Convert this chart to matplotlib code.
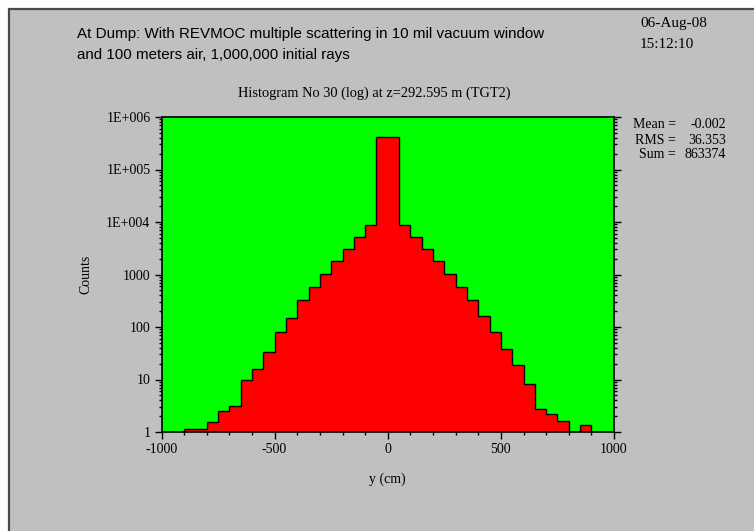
import numpy as np
import matplotlib.pyplot as plt
from matplotlib.patches import Rectangle
from matplotlib.ticker import FixedLocator, LogLocator, NullFormatter, MultipleLocator

# bin edges in cm, 50 cm wide
edges = np.arange(-1000, 1001, 50)
counts = [0, 0, 1.14, 1.14, 1.55, 2.5, 3.1, 9.6, 16, 34,
          80, 150, 320, 580, 1030, 1820, 3030, 5150, 8700, 410800,
          410800, 8600, 5150, 3030, 1820, 1030, 580, 323, 162, 80,
          38, 19, 8.2, 2.7, 2.25, 1.6, 1.02, 1.37, 0, 0]
ytick_vals = [1, 10, 100, 1000, 1e4, 1e5, 1e6]
ytick_labels = ['1', '10', '100', '1000', '1E+004', '1E+005', '1E+006']
xtick_vals = [-1000, -500, 0, 500, 1000]
xtick_labels = ['-1000', '-500', '0', '500', '1000']

serif = ['Liberation Serif', 'DejaVu Serif']
sans = ['Liberation Sans', 'DejaVu Sans']

fig = plt.figure(figsize=(7.54, 5.31), dpi=100, facecolor='white')
W, H = 754, 531

# grey panel with dark frame
fig.patches.append(Rectangle((9 / W, -0.01), 1, 1.01 - 9 / H, transform=fig.transFigure,
                             facecolor='#c0c0c0', edgecolor='#4a4a4a', lw=1.6, zorder=-10))

ax = fig.add_axes([161.5 / W, 1 - 432 / H, 452.5 / W, 315 / H])
ax.set_facecolor('#00ff00')

vals = np.array(counts, dtype=float)
base = 0.3
vals = np.where(vals > 0, vals, base)
ax.stairs(vals, edges, baseline=base, fill=True, facecolor='#ff0000', edgecolor='none')
ax.stairs(vals, edges, baseline=base, fill=False, color='black', lw=1.0)

ax.set_yscale('log')
ax.set_xlim(-1000, 1000)
ax.set_ylim(1, 1e6)

ax.yaxis.set_major_locator(FixedLocator(ytick_vals))
ax.set_yticklabels(ytick_labels)
ax.yaxis.set_minor_locator(LogLocator(base=10, subs=np.arange(2, 10), numticks=20))
ax.yaxis.set_minor_formatter(NullFormatter())
ax.xaxis.set_major_locator(FixedLocator(xtick_vals))
ax.set_xticklabels(xtick_labels)
ax.xaxis.set_minor_locator(MultipleLocator(100))

ax.tick_params(which='both', direction='out', top=False, right=True, left=True,
               width=1, color='black')
ax.tick_params(which='major', length=5, pad=3)
ax.tick_params(which='minor', length=2.5)
for lbl in ax.get_xticklabels() + ax.get_yticklabels():
    lbl.set_family(serif)
    lbl.set_fontsize(10)
for sp in ax.spines.values():
    sp.set_linewidth(1.2)

ax.set_xlabel('y (cm)', family=serif, fontsize=10, labelpad=12)
ax.set_ylabel('Counts', family=serif, fontsize=10, labelpad=10)

fig.text(374 / W, 1 - 93 / H, 'Histogram No 30 (log) at z=292.595 m (TGT2)',
         family=serif, fontsize=10.4, ha='center', va='center')

fig.text(77 / W, 1 - 34 / H,
         'At Dump: With REVMOC multiple scattering in 10 mil vacuum window',
         family=sans, fontsize=10.9, ha='left', va='center')
fig.text(77 / W, 1 - 55 / H, 'and 100 meters air, 1,000,000 initial rays',
         family=sans, fontsize=10.9, ha='left', va='center')

fig.text(640 / W, 1 - 23 / H, '06-Aug-08', family=serif, fontsize=11, va='center')
fig.text(640 / W, 1 - 45 / H, '15:12:10', family=serif, fontsize=11, va='center')

stats = [('Mean =', '-0.002'), ('RMS =', '36.353'), ('Sum =', '863374')]
for i, (k, v) in enumerate(stats):
    y = 1 - (125 + 15 * i) / H
    fig.text(676 / W, y, k, family=serif, fontsize=10, ha='right', va='center')
    fig.text(726 / W, y, v, family=serif, fontsize=10, ha='right', va='center')

fig.savefig('out.png', dpi=100, facecolor='white')
